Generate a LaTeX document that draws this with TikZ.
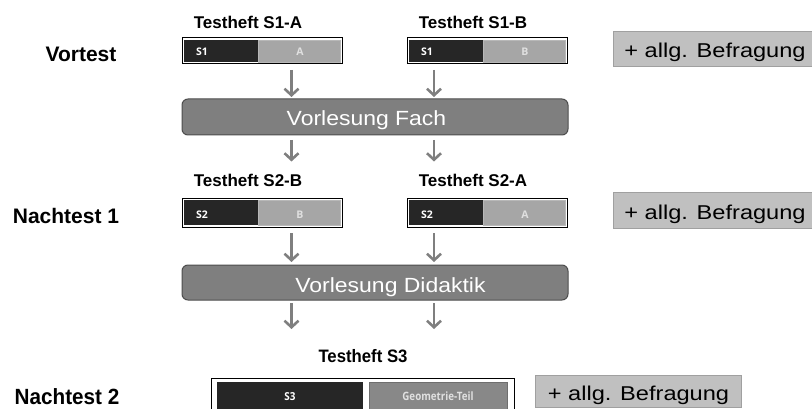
\documentclass[tikz,border=0pt]{standalone}
\usepackage{fontspec}
\setmainfont{Liberation Sans}
\newfontfamily\smallfont{Open Sans}
\usetikzlibrary{arrows.meta}
\definecolor{darkfill}{HTML}{262626}
\definecolor{lightfill}{HTML}{A6A6A6}
\definecolor{lectfill}{HTML}{7F7F7F}
\definecolor{lectdraw}{HTML}{4D4D4D}
\definecolor{befrfill}{HTML}{C0C0C0}
\definecolor{befrdraw}{HTML}{A0A0A0}
\definecolor{arrgray}{HTML}{7F7F7F}
\definecolor{geofill}{HTML}{888888}
\definecolor{geodraw}{HTML}{6E6E6E}
\tikzset{
  phase/.style={inner sep=0pt, outer sep=0pt, anchor=base, font=\fontsize{21}{21}\selectfont\bfseries},
  heftlbl/.style={inner sep=0pt, outer sep=0pt, anchor=base, font=\fontsize{17}{17}\selectfont\bfseries},
  outerbox/.style={draw=black, line width=1pt, fill=white, minimum width=160pt, inner sep=0pt, outer sep=0pt},
  darkpart/.style={fill=darkfill, minimum width=74pt, inner sep=0pt, outer sep=0pt},
  lightpart/.style={fill=lightfill, draw=lightfill!80!white, line width=0.5pt, minimum width=82pt, inner sep=0pt, outer sep=0pt},
  smalltxt/.style={inner sep=0pt, anchor=base, text=white, font=\smallfont\fontsize{10.5}{10.5}\selectfont\bfseries},
  lighttxt/.style={inner sep=0pt, anchor=base, text=white!88!black, font=\smallfont\fontsize{10.5}{10.5}\selectfont\bfseries},
  lect/.style={draw=lectdraw, line width=1pt, fill=lectfill, rounded corners=6pt, minimum width=386pt, inner sep=0pt, outer sep=0pt},
  lecttxt/.style={inner sep=0pt, anchor=base, text=white, xscale=1.12, font=\fontsize{20.5}{20.5}\selectfont},
  befr/.style={draw=befrdraw, line width=1pt, fill=befrfill, inner sep=0pt, outer sep=0pt},
  befrtxt/.style={inner sep=0pt, anchor=base, font=\fontsize{20}{20}\selectfont, xscale=1.18},
  arr/.style={draw=arrgray, line width=2.6pt, -{Straight Barb[length=6.5pt, width=14pt]}}
}
\begin{document}
\begin{tikzpicture}[x=1pt, y=-1pt]
\useasboundingbox (0,0) rectangle (812,409);
\coordinate (colA) at (291.5,0);
\coordinate (colB) at (434,0);

% phase labels
\node[phase] (vortest) at (81,62) {Vortest};
\node[phase] (nach1) at (66,224) {Nachtest 1};
\node[phase, xscale=0.94, font=\fontsize{22}{22}\selectfont\bfseries] (nach2) at (67,404.5) {Nachtest 2};

% Testheft labels
\node[heftlbl] (l1a) at (248,29) {Testheft S1-A};
\node[heftlbl] (l1b) at (473,29) {Testheft S1-B};
\node[heftlbl] (l2b) at (248,187) {Testheft S2-B};
\node[heftlbl] (l2a) at (473,187) {Testheft S2-A};
\node[heftlbl, xscale=0.93, font=\fontsize{18}{18}\selectfont\bfseries] (l3) at (363,362) {Testheft S3};

% S1-A
\node[outerbox, minimum height=26pt] (s1a) at (262,51) {};
\node[darkpart, minimum height=22pt] (s1ad) at (221,51) {};
\node[lightpart, minimum height=22pt] (s1al) at (299,51) {};
\node[smalltxt] (s1at) at (202,56) {S1};
\node[lighttxt] (s1ax) at (300,56) {A};
% S1-B
\node[outerbox, minimum height=26pt] (s1b) at (487,51) {};
\node[darkpart, minimum height=22pt] (s1bd) at (446,51) {};
\node[lightpart, minimum height=22pt] (s1bl) at (524,51) {};
\node[smalltxt] (s1bt) at (427,56) {S1};
\node[lighttxt] (s1bx) at (525,56) {B};
% S2-B
\node[outerbox, minimum height=29pt] (s2b) at (262,213) {};
\node[darkpart, minimum height=25pt] (s2bd) at (221,213) {};
\node[lightpart, minimum height=25pt] (s2bl) at (299,213) {};
\node[smalltxt] (s2bt) at (202,218.5) {S2};
\node[lighttxt] (s2bx) at (300,218.5) {B};
% S2-A
\node[outerbox, minimum height=29pt] (s2a) at (487,213) {};
\node[darkpart, minimum height=25pt] (s2ad) at (446,213) {};
\node[lightpart, minimum height=25pt] (s2al) at (524,213) {};
\node[smalltxt] (s2at) at (427,218.5) {S2};
\node[lighttxt] (s2ax) at (525,218.5) {A};

% lectures
\node[lect, minimum height=36pt] (fach) at (375,117) {};
\node[lecttxt] (facht) at (366.5,126) {Vorlesung Fach};
\node[lect, minimum height=35pt] (did) at (375,282.5) {};
\node[lecttxt] (didt) at (390.5,292) {Vorlesung Didaktik};

% S3
\node[outerbox, minimum width=303pt, minimum height=37pt] (s3) at (362.5,396.5) {};
\node[darkpart, minimum width=146pt, minimum height=33pt] (s3d) at (290,398.5) {};
\node[fill=geofill, draw=geodraw, line width=1pt, minimum width=138pt, minimum height=33pt, inner sep=0pt, outer sep=0pt] (s3l) at (438,398.5) {};
\node[smalltxt, font=\smallfont\fontsize{11}{11}\selectfont\bfseries, xscale=0.9] (s3t) at (290,400) {S3};
\node[lighttxt, font=\smallfont\fontsize{11.5}{11.5}\selectfont\bfseries, xscale=0.85] (s3x) at (438,400) {Geometrie-Teil};

% Befragung
\node[befr, minimum width=207pt, minimum height=35pt] (b1) at (716.5,49.5) {};
\node[befrtxt] (b1t) at (715,58) {+ allg. Befragung};
\node[befr, minimum width=207pt, minimum height=36pt] (b2) at (716.5,211) {};
\node[befrtxt] (b2t) at (715,219) {+ allg. Befragung};
\node[befr, minimum width=206pt, minimum height=32pt] (b3) at (638,391) {};
\node[befrtxt] (b3t) at (638.5,400) {+ allg. Befragung};

% arrows
\draw[arr, shorten <=6pt, shorten >=2pt] (s1a.south -| colA) -- (fach.north -| colA);
\draw[arr, shorten <=6pt, shorten >=2pt] (s1b.south -| colB) -- (fach.north -| colB);
\draw[arr, shorten <=5pt, shorten >=37pt] (fach.south -| colA) -- (s2b.north -| colA);
\draw[arr, shorten <=5pt, shorten >=37pt] (fach.south -| colB) -- (s2a.north -| colB);
\draw[arr, shorten <=6pt, shorten >=3pt] (s2b.south -| colA) -- (did.north -| colA);
\draw[arr, shorten <=6pt, shorten >=3pt] (s2a.south -| colB) -- (did.north -| colB);
\draw[arr, shorten <=3pt, shorten >=49pt] (did.south -| colA) -- (s3.north -| colA);
\draw[arr, shorten <=3pt, shorten >=49pt] (did.south -| colB) -- (s3.north -| colB);
\end{tikzpicture}
\end{document}
